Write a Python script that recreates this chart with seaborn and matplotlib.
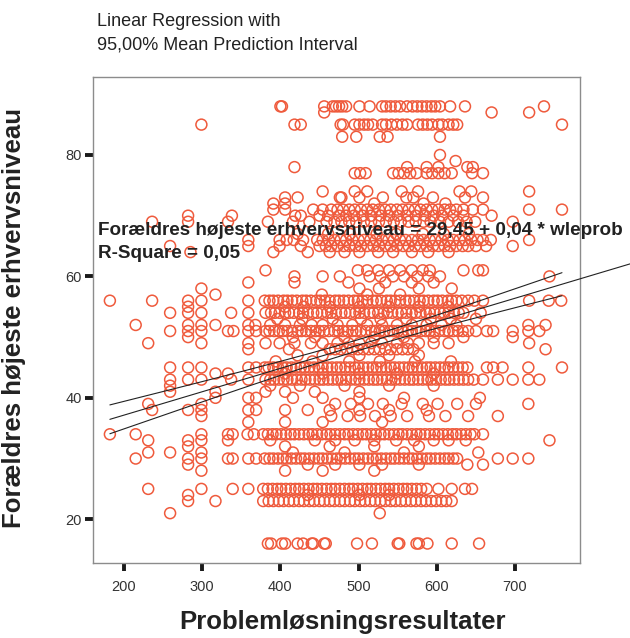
import numpy as np
import pandas as pd
import matplotlib
matplotlib.use("Agg")
import matplotlib.pyplot as plt
import seaborn as sns

# ==============================================
# Data: wleprob (x) per parental ISEI level (y)
# ==============================================
x_y88 = [400, 402, 456, 467, 471, 475, 479, 484, 501, 514, 530, 535, 541, 547, 553, 562, 569, 575, 581, 587, 593, 598, 604, 617, 636, 737]
x_y87 = [456, 670, 718]
x_y85 = [299, 418, 426, 477, 480, 495, 501, 507, 512, 518, 530, 535, 542, 549, 556, 562, 576, 582, 588, 594, 602, 607, 615, 621, 626, 760]
x_y83 = [479, 497, 527, 537, 604]
x_y80 = [604]
x_y79 = [624]
x_y78 = [418, 562, 587, 602, 639, 646]
x_y77 = [495, 502, 509, 544, 551, 558, 566, 574, 587, 594, 602, 610, 619, 645, 659]
x_y74 = [454, 495, 511, 555, 576, 629, 644, 718]
x_y73 = [406, 422, 476, 478, 501, 531, 561, 570, 595, 636, 659]
x_y72 = [391, 406, 520, 583, 611]
x_y71 = [391, 406, 442, 454, 465, 473, 480, 488, 495, 503, 511, 518, 526, 534, 541, 549, 556, 564, 572, 579, 587, 594, 602, 610, 617, 625, 634, 646, 659, 718, 760]
x_y70 = [282, 338, 419, 426, 450, 461, 475, 484, 494, 505, 516, 528, 539, 550, 562, 573, 585, 596, 607, 621, 634, 670]
x_y69 = [236, 282, 333, 384, 416, 437, 459, 469, 478, 488, 497, 507, 516, 526, 535, 545, 554, 564, 573, 583, 592, 604, 615, 627, 638, 649, 697]
x_y67 = [422, 461, 489, 523, 548, 582, 609, 641]
x_y66 = [359, 399, 408, 417, 429, 447, 454, 462, 469, 477, 484, 492, 500, 507, 515, 522, 530, 538, 545, 553, 560, 568, 576, 583, 591, 598, 606, 614, 621, 629, 636, 644, 652, 659, 669, 718]
x_y65 = [259, 359, 399, 426, 450, 458, 465, 473, 481, 488, 496, 503, 511, 519, 526, 534, 541, 549, 557, 564, 572, 579, 587, 595, 602, 610, 617, 625, 633, 640, 650, 663, 697]
x_y64 = [285, 391, 435, 463, 482, 501, 525, 544, 568, 589, 615]
x_y61 = [381, 499, 511, 525, 539, 553, 568, 582, 591, 634, 653, 659]
x_y60 = [418, 454, 476, 514, 528, 544, 558, 575, 589, 604, 744]
x_y59 = [359, 418, 487, 534, 568, 596]
x_y58 = [299, 501, 526, 577, 619]
x_y57 = [317, 453, 511, 553]
x_y56 = [182, 236, 282, 299, 359, 380, 386, 391, 397, 404, 409, 415, 421, 428, 433, 439, 446, 451, 457, 463, 470, 475, 481, 487, 494, 499, 505, 511, 518, 523, 529, 536, 541, 547, 553, 560, 565, 571, 578, 583, 589, 596, 601, 607, 614, 619, 625, 632, 640, 648, 659, 718, 743, 759]
x_y55 = [282, 406, 430, 463, 501, 539, 577, 615]
x_y54 = [259, 282, 299, 337, 359, 381, 388, 393, 399, 406, 411, 417, 424, 429, 435, 442, 447, 453, 460, 465, 471, 478, 483, 489, 496, 501, 507, 514, 519, 525, 532, 537, 543, 550, 555, 561, 568, 573, 579, 586, 591, 597, 604, 609, 615, 622, 628, 634, 656]
x_y53 = [396, 428, 467, 503, 528, 561, 592, 618, 650]
x_y52 = [215, 282, 299, 317, 359, 368, 387, 406, 425, 440, 454, 473, 492, 511, 530, 549, 568, 587, 606, 625, 717, 739]
x_y51 = [259, 282, 299, 333, 340, 359, 369, 381, 386, 392, 398, 403, 409, 415, 422, 427, 433, 439, 445, 450, 456, 462, 469, 474, 480, 486, 492, 497, 503, 509, 516, 521, 527, 533, 539, 544, 550, 556, 563, 568, 574, 580, 586, 591, 597, 603, 610, 615, 621, 627, 633, 640, 650, 664, 672, 697, 717, 731]
x_y50 = [282, 416, 444, 482, 520, 558, 596, 634, 697]
x_y49 = [231, 299, 359, 381, 399, 418, 439, 454, 473, 487, 501, 516, 530, 549, 563, 577, 596, 615, 718]
x_y48 = [359, 411, 463, 470, 477, 485, 492, 499, 506, 513, 520, 527, 534, 541, 549, 556, 563, 570, 739]
x_y47 = [422, 454, 501, 539, 577]
x_y46 = [394, 441, 488, 527, 572, 618]
x_y45 = [259, 282, 299, 359, 369, 380, 385, 391, 397, 403, 408, 414, 420, 426, 431, 437, 443, 449, 454, 460, 466, 472, 477, 483, 489, 495, 500, 506, 512, 518, 523, 529, 535, 541, 546, 552, 558, 564, 569, 575, 581, 587, 592, 598, 604, 610, 615, 621, 627, 633, 639, 664, 672, 684, 717, 760]
x_y44 = [317, 333, 406, 454, 501, 549, 596]
x_y43 = [259, 282, 299, 337, 359, 381, 387, 392, 398, 404, 409, 415, 421, 427, 432, 438, 444, 450, 455, 461, 467, 473, 478, 484, 490, 496, 501, 507, 513, 519, 524, 530, 536, 542, 547, 553, 559, 565, 570, 576, 582, 588, 593, 599, 605, 611, 616, 622, 628, 634, 640, 647, 659, 678, 697, 717, 731]
x_y42 = [259, 387, 425, 482, 539, 596]
x_y41 = [259, 317, 381, 406, 444, 501]
x_y40 = [317, 359, 369, 416, 454, 501, 558, 655]
x_y39 = [231, 299, 470, 490, 512, 531, 555, 582, 601, 626, 650, 717]
x_y38 = [236, 282, 299, 359, 369, 406, 435, 463, 501, 539, 587]
x_y37 = [299, 465, 486, 502, 521, 541, 562, 590, 611, 640, 678]
x_y36 = [359, 406, 454, 530]
x_y34 = [182, 215, 299, 333, 339, 358, 366, 378, 384, 390, 395, 401, 407, 413, 418, 424, 430, 436, 441, 447, 453, 459, 464, 470, 476, 482, 487, 493, 499, 505, 510, 516, 522, 528, 533, 539, 545, 551, 556, 562, 568, 574, 579, 585, 591, 597, 602, 608, 614, 620, 625, 631, 637, 643, 648, 659]
x_y33 = [231, 282, 299, 333, 387, 444, 470, 495, 520, 548, 571, 596, 615, 637, 744]
x_y32 = [282, 406, 463, 520, 577]
x_y31 = [231, 259, 299, 416, 482, 558, 653]
x_y30 = [215, 282, 299, 333, 339, 359, 369, 380, 386, 391, 397, 403, 408, 414, 420, 426, 431, 437, 443, 449, 454, 460, 466, 472, 477, 483, 489, 495, 500, 506, 512, 518, 523, 529, 535, 541, 546, 552, 558, 564, 569, 575, 581, 587, 592, 598, 604, 610, 615, 621, 626, 678, 697, 717]
x_y29 = [282, 435, 470, 501, 530, 577, 639, 659]
x_y28 = [299, 406, 454, 520]
x_y25 = [231, 299, 339, 359, 378, 384, 390, 396, 401, 407, 413, 419, 424, 430, 436, 442, 447, 453, 459, 465, 470, 476, 482, 488, 493, 499, 505, 511, 516, 522, 528, 534, 539, 545, 551, 557, 562, 568, 574, 580, 587, 602, 619, 636, 645]
x_y24 = [282, 435, 501, 539]
x_y23 = [282, 317, 378, 385, 391, 398, 404, 411, 417, 424, 430, 437, 443, 450, 456, 463, 469, 476, 482, 489, 495, 502, 508, 515, 521, 528, 534, 541, 547, 554, 560, 567, 573, 580, 586, 593, 599, 606, 612, 619]
x_y21 = [259, 527]
x_y16 = [384, 388, 402, 406, 422, 429, 440, 442, 456, 458, 498, 517, 550, 552, 574, 577, 588, 619, 654]

levels = [
    (88, x_y88), (87, x_y87), (85, x_y85), (83, x_y83), (80, x_y80), (79, x_y79),
    (78, x_y78), (77, x_y77), (74, x_y74), (73, x_y73), (72, x_y72), (71, x_y71),
    (70, x_y70), (69, x_y69), (67, x_y67), (66, x_y66), (65, x_y65), (64, x_y64),
    (61, x_y61), (60, x_y60), (59, x_y59), (58, x_y58), (57, x_y57), (56, x_y56),
    (55, x_y55), (54, x_y54), (53, x_y53), (52, x_y52), (51, x_y51), (50, x_y50),
    (49, x_y49), (48, x_y48), (47, x_y47), (46, x_y46), (45, x_y45), (44, x_y44),
    (43, x_y43), (42, x_y42), (41, x_y41), (40, x_y40), (39, x_y39), (38, x_y38),
    (37, x_y37), (36, x_y36), (34, x_y34), (33, x_y33), (32, x_y32), (31, x_y31),
    (30, x_y30), (29, x_y29), (28, x_y28), (25, x_y25), (24, x_y24), (23, x_y23),
    (21, x_y21), (16, x_y16),
]

# fit reported by SPSS + width of the mean prediction band
b0, b1 = 29.45, 0.0385
band_a, band_b, band_xm = 0.80, 4.5e-5, 510

df = pd.concat(
    [pd.DataFrame({"wleprob": xs, "isei": lvl}) for lvl, xs in levels],
    ignore_index=True,
)

# ==============================================
# Plot
# ==============================================
sns.set_style("white")
plt.rcParams["font.family"] = ["Liberation Sans", "DejaVu Sans"]

do_cam = "#ef5a3c"

fig = plt.figure(figsize=(6.3, 6.38), dpi=100)
ax = fig.add_axes([0.1476, 0.1176, 0.7730, 0.7618])

sns.scatterplot(data=df, x="wleprob", y="isei", ax=ax, s=62, linewidth=1.1, zorder=2)
pts = ax.collections[0]
pts.set_facecolor("none")
pts.set_edgecolor(do_cam)

# regression line + 95% mean prediction interval
x_min, x_max = df["wleprob"].min(), df["wleprob"].max()
xb = np.linspace(x_min, x_max, 200)
hw = np.sqrt(band_a + band_b * (xb - band_xm) ** 2)
ax.plot(xb, b0 + b1 * xb + hw, color="#222222", lw=0.8, zorder=3)
ax.plot(xb, b0 + b1 * xb - hw, color="#222222", lw=0.8, zorder=3)
xl = np.linspace(x_min, 900, 200)
ax.plot(xl, b0 + b1 * xl, color="#222222", lw=0.8, zorder=3, clip_on=False)

ax.set_xlim(160.4, 783)
ax.set_ylim(12.8, 92.85)
ax.set_xticks([200, 300, 400, 500, 600, 700])
ax.set_yticks([20, 40, 60, 80])

for sp in ax.spines.values():
    sp.set_visible(True)
    sp.set_color("#8c8c8c")
    sp.set_linewidth(1.0)

ax.tick_params(axis="both", direction="out", length=6, width=2.8, color="#1a1a1a",
               labelsize=10.5, labelcolor="#333333", bottom=True, left=True)
ax.tick_params(axis="x", pad=6)
ax.tick_params(axis="y", pad=2)

ax.set_xlabel("Problemløsningsresultater", fontsize=18.5, fontweight="bold", color="#222222")
ax.set_ylabel("Forældres højeste erhvervsniveau", fontsize=18.5, fontweight="bold", color="#222222")
ax.xaxis.set_label_coords(0.513, -0.097)
ax.yaxis.set_label_coords(-0.138, 0.504)

fig.text(97 / 630, 1 - 21 / 638, "Linear Regression with", fontsize=13, color="#222222", va="center")
fig.text(97 / 630, 1 - 45 / 638, "95,00% Mean Prediction Interval", fontsize=13, color="#222222", va="center")
fig.text(98 / 630, 1 - 231 / 638, "Forældres højeste erhvervsniveau = 29,45 + 0,04 * wleprob",
         fontsize=13.6, fontweight="bold", color="#222222", va="center", zorder=5)
fig.text(98 / 630, 1 - 253 / 638, "R-Square = 0,05",
         fontsize=13.6, fontweight="bold", color="#222222", va="center", zorder=5)

plt.savefig("out.png", dpi=100)
plt.close()
